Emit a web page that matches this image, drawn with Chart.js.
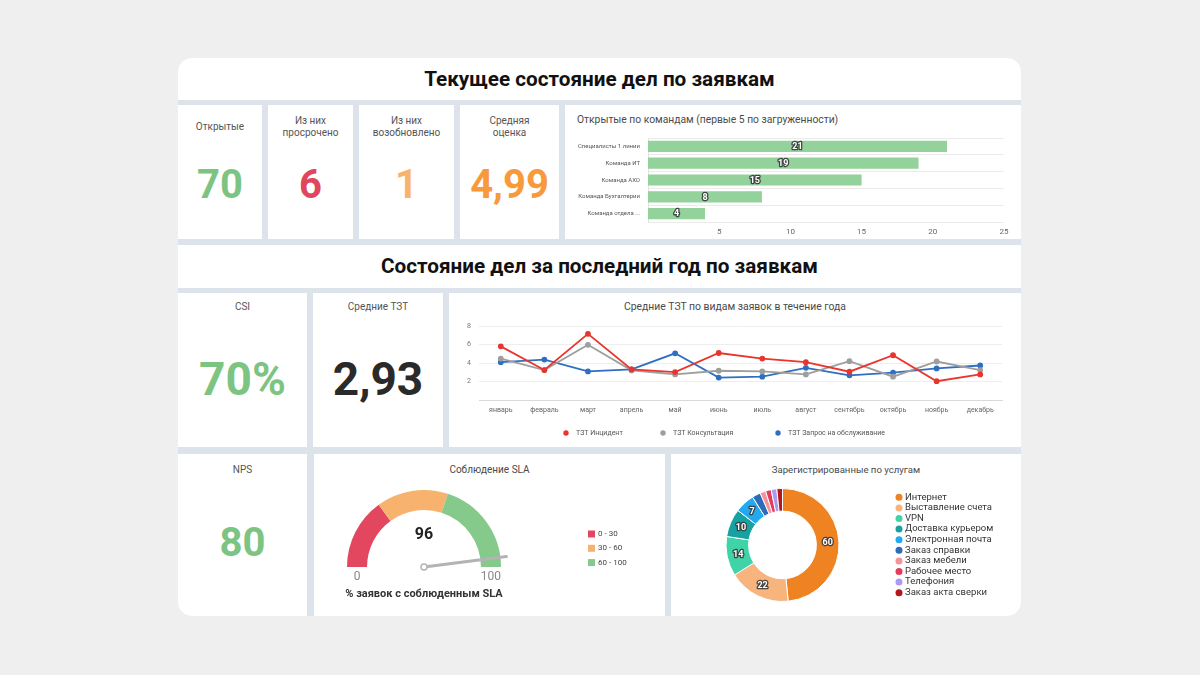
<!DOCTYPE html>
<html><head><meta charset="utf-8">
<script src="https://cdn.jsdelivr.net/npm/chart.js@4.4.1/dist/chart.umd.min.js"></script>
<style>
html,body{margin:0;padding:0;width:1200px;height:675px;background:#efefef;font-family:Roboto,"Noto Sans",sans-serif;overflow:hidden}
#wrap{position:absolute;left:178px;top:58px;width:843px;height:558px;background:#dde3ea;border-radius:14px;overflow:hidden}
.p{position:absolute;background:#fff}
.lbl{position:absolute;left:0;right:0;display:flex;align-items:center;justify-content:center;text-align:center;font-size:10px;line-height:12px;color:#555}
.val{position:absolute;left:0;right:0;text-align:center;font-weight:700;line-height:1;white-space:nowrap}
.hdr{position:absolute;left:0;right:0;top:10.5px;text-align:center;font-weight:700;font-size:20.7px;line-height:1;color:#111;white-space:nowrap}
.ttl{position:absolute;font-size:10px;line-height:1;color:#4a4a4a;white-space:nowrap}
canvas{position:absolute}
</style>
</head>
<body>
<div id="wrap">
  <div class="p" style="left:0;top:0;width:843px;height:42px"><div class="hdr">Текущее состояние дел по заявкам</div></div>

  <div class="p" style="left:0;top:47px;width:84px;height:134px">
    <div class="lbl" style="top:10px;height:24px">Открытые</div>
    <div class="val" style="top:59.5px;font-size:40px;color:#7dc482">70</div>
  </div>
  <div class="p" style="left:90px;top:47px;width:85px;height:134px">
    <div class="lbl" style="top:10px;height:24px">Из них<br>просрочено</div>
    <div class="val" style="top:59.5px;font-size:40px;color:#e0465e">6</div>
  </div>
  <div class="p" style="left:181px;top:47px;width:95px;height:134px">
    <div class="lbl" style="top:10px;height:24px">Из них<br>возобновлено</div>
    <div class="val" style="top:59.5px;font-size:40px;color:#f9b46c">1</div>
  </div>
  <div class="p" style="left:282px;top:47px;width:99px;height:134px">
    <div class="lbl" style="top:10px;height:24px">Средняя<br>оценка</div>
    <div class="val" style="top:59.5px;font-size:40px;color:#f8993b">4,99</div>
  </div>
  <div class="p" style="left:387px;top:47px;width:456px;height:134px">
    <div class="ttl" style="left:12px;top:10px;font-size:10.3px">Открытые по командам (первые 5 по загруженности)</div>
    <canvas id="bar" width="456" height="134" style="left:0;top:0"></canvas>
  </div>

  <div class="p" style="left:0;top:187px;width:843px;height:43px"><div class="hdr">Состояние дел за последний год по заявкам</div></div>

  <div class="p" style="left:0;top:235px;width:129px;height:154px">
    <div class="lbl" style="top:8px;height:12px">CSI</div>
    <div class="val" style="top:63px;font-size:46px;color:#7dc482">70%</div>
  </div>
  <div class="p" style="left:135px;top:235px;width:130px;height:154px">
    <div class="lbl" style="top:8px;height:12px">Средние ТЗТ</div>
    <div class="val" style="top:63px;font-size:46px;color:#2a2a2a">2,93</div>
  </div>
  <div class="p" style="left:271px;top:235px;width:572px;height:154px">
    <div class="ttl" style="left:0;right:0;text-align:center;top:9px;font-size:10.4px">Средние ТЗТ по видам заявок в течение года</div>
    <canvas id="line" width="572" height="154" style="left:0;top:0"></canvas>
  </div>

  <div class="p" style="left:0;top:396px;width:129px;height:162px">
    <div class="lbl" style="top:10px;height:12px">NPS</div>
    <div class="val" style="top:68.5px;font-size:40px;color:#7dc482">80</div>
  </div>
  <div class="p" style="left:136px;top:396px;width:351px;height:162px">
    <div class="ttl" style="left:0;right:0;text-align:center;top:11px">Соблюдение SLA</div>
    <canvas id="gauge" width="351" height="162" style="left:0;top:0"></canvas>
  </div>
  <div class="p" style="left:493px;top:396px;width:350px;height:162px">
    <div class="ttl" style="left:0;right:0;text-align:center;top:11px;font-size:9.6px">Зарегистрированные по услугам</div>
    <canvas id="donut" width="350" height="162" style="left:0;top:0"></canvas>
  </div>
</div>

<script>
// ---- data ----
const teamLabels = ['Специалисты 1 линии', 'Команда ИТ', 'Команда АХО', 'Команда Бухгалтерии', 'Команда отдела ...'];
const teamOpen = [21, 19, 15, 8, 4];

const months = ['январь','февраль','март','апрель','май','июнь','июль','август','сентябрь','октябрь','ноябрь','декабрь'];
const tztIncident = [5.8, 3.24, 7.15, 3.31, 3.02, 5.08, 4.48, 4.09, 3.06, 4.84, 2.03, 2.77];
const tztConsult  = [4.48, 3.24, 5.97, 3.2, 2.77, 3.16, 3.09, 2.77, 4.2, 2.52, 4.16, 3.24];
const tztService  = [4.09, 4.37, 3.09, 3.31, 5.05, 2.42, 2.52, 3.48, 2.67, 2.95, 3.41, 3.73];
const tztSeriesNames = ['ТЗТ Инцидент', 'ТЗТ Консультация', 'ТЗТ Запрос на обслуживание'];

const slaBands = ['0 - 30', '30 - 60', '60 - 100'];
const slaBandSizes = [30, 30, 40];
const slaValue = 96;

const services = ['Интернет','Выставление счета','VPN','Доставка курьером','Электронная почта','Заказ справки','Заказ мебели','Рабочее место','Телефония','Заказ акта сверки'];
const serviceCounts = [60, 22, 14, 10, 7, 3, 2, 2, 2, 2];

// ---- styles ----
const serviceColors = ['#ef8322','#f7b47c','#3fd4a7','#16a2a0','#22a9ef','#2e6cb8','#f4939c','#e63c5c','#a99af2','#b3181c'];
const slaColors = ['#e2475f','#f7b26d','#85c98b'];
const lineColors = ['#e8352d','#9e9e9e','#2f6fc2'];

Chart.defaults.font.family = 'Roboto';
Chart.defaults.color = '#666';

const outlined = {
  id: 'outlined',
  afterDatasetsDraw(chart, args, opts) {
    const ctx = chart.ctx;
    ctx.save();
    ctx.font = 'bold ' + opts.size + 'px Roboto';
    ctx.textAlign = 'center';
    ctx.textBaseline = 'middle';
    ctx.lineJoin = 'round';
    const vals = chart.data.datasets[0].data;
    chart.getDatasetMeta(0).data.forEach((el, i) => {
      if (vals[i] < opts.min) return;
      const p = el.getCenterPoint();
      ctx.lineWidth = 2.6;
      ctx.strokeStyle = 'rgba(55,55,55,0.9)';
      ctx.strokeText(String(vals[i]), p.x, p.y + 0.5);
      ctx.fillStyle = '#fff';
      ctx.fillText(String(vals[i]), p.x, p.y + 0.5);
    });
    ctx.restore();
  }
};

new Chart(document.getElementById('bar'), {
  type: 'bar',
  data: { labels: teamLabels, datasets: [{ data: teamOpen, backgroundColor: '#93d29a', barPercentage: 0.83, categoryPercentage: 0.8 }] },
  options: {
    indexAxis: 'y', responsive: false, animation: false,
    layout: { padding: { left: 0, right: 17, top: 33, bottom: 0 } },
    plugins: { legend: { display: false }, tooltip: { enabled: false }, outlined: { size: 9, min: 0 } },
    scales: {
      x: { min: 0, max: 25,
           ticks: { stepSize: 5, callback: v => v === 0 ? '' : v, font: { size: 8 }, color: '#666', padding: 5, maxRotation: 0 },
           grid: { display: false, drawTicks: false }, border: { display: false },
           afterFit: s => { s.height = 17; } },
      y: { ticks: { font: { size: 6 }, color: '#555', padding: 8, autoSkip: false },
           grid: { color: '#ebebeb', drawTicks: false, offset: true }, border: { color: '#e2e2e2' },
           afterFit: s => { s.width = 83; } }
    }
  },
  plugins: [outlined]
});

const lineLegend = {
  id: 'lineLegend',
  afterDraw(chart) {
    const ctx = chart.ctx;
    ctx.save();
    ctx.font = '7px Roboto';
    ctx.textBaseline = 'middle';
    ctx.textAlign = 'left';
    const xs = [117, 214, 329];
    const y = 140;
    chart.data.datasets.forEach((ds, i) => {
      ctx.fillStyle = ds.borderColor;
      ctx.beginPath(); ctx.arc(xs[i], y, 2.7, 0, Math.PI * 2); ctx.fill();
      ctx.fillStyle = '#555';
      ctx.fillText(ds.label, xs[i] + 10, y);
    });
    ctx.restore();
  }
};

const mkLine = (label, data, color) => ({
  label, data, borderColor: color, backgroundColor: color, pointBackgroundColor: color,
  pointBorderColor: color, borderWidth: 1.8, pointRadius: 2, tension: 0, fill: false
});

new Chart(document.getElementById('line'), {
  type: 'line',
  data: { labels: months, datasets: [
    mkLine(tztSeriesNames[0], tztIncident, lineColors[0]),
    mkLine(tztSeriesNames[1], tztConsult, lineColors[1]),
    mkLine(tztSeriesNames[2], tztService, lineColors[2])
  ] },
  options: {
    responsive: false, animation: false,
    layout: { padding: { left: 0, right: 19, top: 33, bottom: 27 } },
    plugins: { legend: { display: false }, tooltip: { enabled: false } },
    scales: {
      x: { offset: true, grid: { display: false, drawTicks: false }, border: { color: '#d9d9d9' },
           ticks: { font: { size: 7 }, color: '#666', padding: 6, maxRotation: 0, autoSkip: false },
           afterFit: s => { s.height = 20; } },
      y: { min: 0, max: 8,
           ticks: { stepSize: 1, callback: v => (v > 0 && v % 2 === 0) ? v : '', font: { size: 7 }, color: '#777', padding: 8 },
           grid: { color: '#eeeeee', drawTicks: false }, border: { display: false },
           afterFit: s => { s.width = 30; } }
    }
  },
  plugins: [lineLegend]
});

const gaugeExtras = {
  id: 'gaugeExtras',
  afterDatasetsDraw(chart) {
    const arc = chart.getDatasetMeta(0).data[0];
    const cx = arc.x, cy = arc.y, R = arc.outerRadius, r = arc.innerRadius;
    const ctx = chart.ctx;
    ctx.save();
    const ang = Math.PI + Math.PI * slaValue / 100;
    const L = R + 6;
    ctx.strokeStyle = '#b3b3b3'; ctx.lineWidth = 3; ctx.lineCap = 'round';
    ctx.beginPath(); ctx.moveTo(cx, cy); ctx.lineTo(cx + L * Math.cos(ang), cy + L * Math.sin(ang)); ctx.stroke();
    ctx.beginPath(); ctx.arc(cx, cy, 3, 0, Math.PI * 2); ctx.fillStyle = '#fff'; ctx.fill();
    ctx.lineWidth = 1.5; ctx.stroke();
    ctx.textAlign = 'center'; ctx.textBaseline = 'middle';
    ctx.fillStyle = '#222'; ctx.font = 'bold 16px Roboto';
    ctx.fillText(String(slaValue), cx, cy - 32);
    ctx.font = '12px Roboto'; ctx.fillStyle = '#888';
    ctx.fillText('0', cx - (R + r) / 2, cy + 10);
    ctx.fillText('100', cx + (R + r) / 2, cy + 10);
    ctx.font = 'bold 11px Roboto'; ctx.fillStyle = '#333';
    ctx.fillText('% заявок с соблюденным SLA', cx, cy + 27);
    // legend
    ctx.font = '8px Roboto'; ctx.textAlign = 'left';
    chart.data.labels.forEach((lb, i) => {
      const y = 80 + i * 14.3;
      ctx.fillStyle = chart.data.datasets[0].backgroundColor[i];
      ctx.fillRect(274, y - 3.5, 7, 7);
      ctx.fillStyle = '#444';
      ctx.fillText(lb, 284, y);
    });
    ctx.restore();
  }
};

new Chart(document.getElementById('gauge'), {
  type: 'doughnut',
  data: { labels: slaBands, datasets: [{ data: slaBandSizes, backgroundColor: slaColors, borderWidth: 0 }] },
  options: {
    responsive: false, animation: false, rotation: -90, circumference: 180, cutout: '74%',
    layout: { padding: { left: 33, right: 164, top: 36, bottom: 49 } },
    plugins: { legend: { display: false }, tooltip: { enabled: false } }
  },
  plugins: [gaugeExtras]
});

const donutLegend = {
  id: 'donutLegend',
  afterDraw(chart) {
    const ctx = chart.ctx;
    ctx.save();
    ctx.font = '9.5px Roboto'; ctx.textAlign = 'left'; ctx.textBaseline = 'middle';
    chart.data.labels.forEach((lb, i) => {
      const y = 43.3 + i * 10.6;
      ctx.fillStyle = chart.data.datasets[0].backgroundColor[i];
      ctx.beginPath(); ctx.arc(228, y, 3.5, 0, Math.PI * 2); ctx.fill();
      ctx.fillStyle = '#333';
      ctx.fillText(lb, 234, y);
    });
    ctx.restore();
  }
};

new Chart(document.getElementById('donut'), {
  type: 'doughnut',
  data: { labels: services, datasets: [{ data: serviceCounts, backgroundColor: serviceColors, borderColor: '#fff', borderWidth: 1 }] },
  options: {
    responsive: false, animation: false, cutout: '60%',
    layout: { padding: { left: 54.5, right: 181.5, top: 34, bottom: 14 } },
    plugins: { legend: { display: false }, tooltip: { enabled: false }, outlined: { size: 9, min: 5 } }
  },
  plugins: [outlined, donutLegend]
});
</script>
</body></html>
